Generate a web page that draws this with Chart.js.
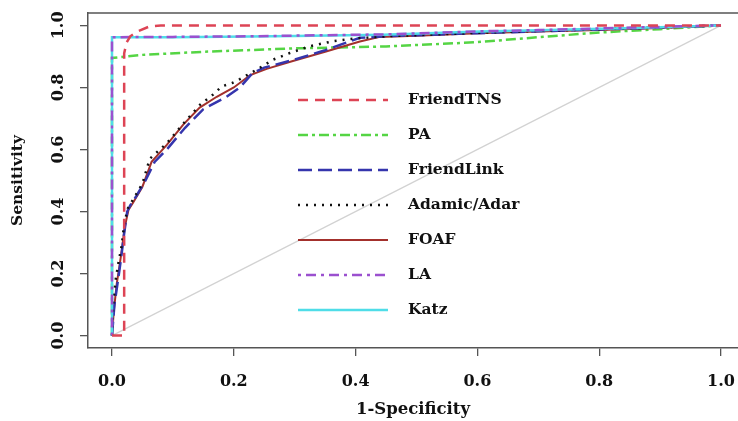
<!DOCTYPE html>
<html><head><meta charset="utf-8">
<script src="https://cdn.jsdelivr.net/npm/chart.js@4/dist/chart.umd.min.js"></script>
<style>html,body{margin:0;padding:0;background:#fff;overflow:hidden;width:738px;height:421px}
#wrap{position:relative;width:738px;height:421px;overflow:hidden}</style>
</head><body><div id="wrap"><canvas id="c" width="738" height="421"></canvas></div>
<script>
const xTicks = [0, 0.2, 0.4, 0.6, 0.8, 1.0];
const yTicks = [0, 0.2, 0.4, 0.6, 0.8, 1.0];
const seriesNames = ['FriendTNS', 'PA', 'FriendLink', 'Adamic/Adar', 'FOAF', 'LA', 'Katz'];

const friendTnsFpr = [0, 0.02, 0.02, 0.024, 0.03, 0.041, 0.062, 0.08, 1];
const friendTnsTpr = [0, 0, 0.91, 0.945, 0.965, 0.98, 0.997, 1, 1];

const paFpr = [0, 0, 0.05, 0.15, 0.3, 0.45, 0.6, 0.7, 0.8, 0.9, 1];
const paTpr = [0, 0.895, 0.905, 0.915, 0.926, 0.932, 0.946, 0.962, 0.977, 0.988, 1];

const friendLinkFpr = [0, 0.004, 0.01, 0.015, 0.02, 0.025, 0.03, 0.04, 0.055, 0.07, 0.09, 0.12, 0.15, 0.188, 0.21, 0.23, 0.25, 0.3, 0.35, 0.407, 0.45, 0.6, 0.8, 1];
const friendLinkTpr = [0, 0.1, 0.18, 0.25, 0.33, 0.4, 0.42, 0.45, 0.5, 0.56, 0.6, 0.67, 0.73, 0.77, 0.8, 0.845, 0.864, 0.89, 0.92, 0.96, 0.965, 0.975, 0.987, 1];

const adamicFpr = [0, 0.002, 0.006, 0.011, 0.016, 0.02, 0.026, 0.035, 0.05, 0.062, 0.09, 0.12, 0.145, 0.166, 0.18, 0.197, 0.21, 0.24, 0.265, 0.292, 0.325, 0.363, 0.4, 0.45, 0.6, 0.8, 1];
const adamicTpr = [0, 0.1, 0.18, 0.24, 0.29, 0.36, 0.41, 0.44, 0.49, 0.57, 0.62, 0.69, 0.745, 0.777, 0.803, 0.814, 0.827, 0.86, 0.89, 0.911, 0.933, 0.949, 0.958, 0.965, 0.976, 0.988, 1];

const foafFpr = [0, 0.003, 0.008, 0.012, 0.016, 0.021, 0.027, 0.035, 0.05, 0.065, 0.09, 0.117, 0.144, 0.172, 0.2, 0.227, 0.254, 0.297, 0.35, 0.407, 0.44, 0.5, 0.6, 0.7, 0.8, 0.9, 1];
const foafTpr = [0, 0.08, 0.17, 0.22, 0.275, 0.35, 0.405, 0.43, 0.48, 0.56, 0.615, 0.68, 0.735, 0.77, 0.8, 0.84, 0.86, 0.885, 0.915, 0.948, 0.963, 0.967, 0.975, 0.98, 0.985, 0.992, 1];

const laFpr = [0, 0, 0.1, 0.226, 0.3, 0.445, 0.604, 0.7, 0.855, 1];
const laTpr = [0, 0.962, 0.963, 0.965, 0.967, 0.971, 0.981, 0.985, 0.993, 1];

const katzFpr = [0, 0, 0.1, 0.226, 0.3, 0.445, 0.604, 0.7, 0.855, 1];
const katzTpr = [0, 0.962, 0.962, 0.964, 0.966, 0.97, 0.98, 0.984, 0.992, 1];

const diagFpr = [0, 1];
const diagTpr = [0, 1];

function pts(xs, ys) { return xs.map((x, i) => ({ x: x, y: ys[i] })); }

const FONT = 'DejaVu Serif';
const txtColor = '#111';
const axisColor = '#555';

const datasets = [
  { label: seriesNames[0], data: pts(friendTnsFpr, friendTnsTpr), borderColor: '#DD4455', borderDash: [10, 7], borderWidth: 2.5, order: 1 },
  { label: seriesNames[1], data: pts(paFpr, paTpr), borderColor: '#55D544', borderDash: [10, 4, 3, 4], borderWidth: 2.5, order: 7 },
  { label: seriesNames[2], data: pts(friendLinkFpr, friendLinkTpr), borderColor: '#3535AD', borderDash: [14, 6], borderWidth: 2.5, order: 5 },
  { label: seriesNames[3], data: pts(adamicFpr, adamicTpr), borderColor: '#111111', borderDash: [2, 6], borderWidth: 2.5, order: 4 },
  { label: seriesNames[4], data: pts(foafFpr, foafTpr), borderColor: '#A3302C', borderDash: [], borderWidth: 2, order: 6 },
  { label: seriesNames[5], data: pts(laFpr, laTpr), borderColor: '#9B50CF', borderDash: [3, 5, 10, 5], borderWidth: 2.5, order: 2 },
  { label: seriesNames[6], data: pts(katzFpr, katzTpr), borderColor: '#4FDDE8', borderDash: [], borderWidth: 2.5, order: 3 },
  { label: '', data: pts(diagFpr, diagTpr), borderColor: '#D2D2D2', borderDash: [], borderWidth: 1.2, order: 9, isDiag: true }
];
datasets.forEach(d => { d.showLine = true; d.pointRadius = 0; d.fill = false; d.tension = 0; });

const frameAndLegend = {
  id: 'frameAndLegend',
  beforeDatasetsDraw(chart) {
    const ctx = chart.ctx, a = chart.chartArea;
    ctx.save();
    ctx.strokeStyle = axisColor;
    ctx.lineWidth = 1.5;
    ctx.beginPath();
    ctx.moveTo(a.left, a.top);
    ctx.lineTo(a.right + 20, a.top);
    ctx.stroke();
    ctx.restore();
  },
  afterDatasetsDraw(chart) {
    const ctx = chart.ctx;
    const x0 = 298, x1 = 388, tx = 408, y0 = 100, dy = 35;
    ctx.save();
    chart.data.datasets.filter(d => !d.isDiag).forEach((d, i) => {
      const y = y0 + i * dy;
      ctx.beginPath();
      ctx.setLineDash(d.borderDash || []);
      ctx.strokeStyle = d.borderColor;
      ctx.lineWidth = d.borderWidth;
      ctx.moveTo(x0, y); ctx.lineTo(x1, y); ctx.stroke();
      ctx.setLineDash([]);
      ctx.fillStyle = txtColor;
      ctx.font = 'bold 15.5px "' + FONT + '"';
      ctx.textBaseline = 'middle';
      ctx.textAlign = 'left';
      ctx.fillText(d.label, tx, y);
    });
    ctx.restore();
  }
};

new Chart(document.getElementById('c'), {
  type: 'scatter',
  data: { datasets: datasets },
  plugins: [frameAndLegend],
  options: {
    responsive: false, animation: false, devicePixelRatio: 1,
    layout: { padding: { top: 13, right: 0, left: 0, bottom: 0 } },
    plugins: { legend: { display: false }, tooltip: { enabled: false } },
    scales: {
      x: {
        type: 'linear', min: -0.0394, max: 1.0279, position: 'bottom',
        afterFit(s) { s.height = 73; s.paddingLeft = 0; s.paddingRight = 0; },
        afterBuildTicks(s) { s.ticks = xTicks.map(v => ({ value: v })); },
        grid: { drawOnChartArea: false, drawTicks: true, tickLength: 8, color: axisColor, lineWidth: 1.3 },
        border: { display: true, color: axisColor, width: 1.5 },
        ticks: { callback: v => Number(v).toFixed(1), font: { family: FONT, weight: 'bold', size: 16 }, color: txtColor, padding: 16, maxRotation: 0, autoSkip: false },
        title: { display: true, text: '1-Specificity', font: { family: FONT, weight: 'bold', size: 16.5 }, color: txtColor, padding: { top: 0, bottom: 1 } }
      },
      y: {
        type: 'linear', min: -0.04, max: 1.04, position: 'left',
        afterFit(s) { s.width = 88; s.paddingTop = 0; s.paddingBottom = 0; },
        afterBuildTicks(s) { s.ticks = yTicks.map(v => ({ value: v })); },
        grid: { drawOnChartArea: false, drawTicks: true, tickLength: 8, color: axisColor, lineWidth: 1.3 },
        border: { display: true, color: axisColor, width: 1.5 },
        ticks: { callback: v => Number(v).toFixed(1), font: { family: FONT, weight: 'bold', size: 16 }, color: txtColor, padding: 7, minRotation: 90, maxRotation: 90, crossAlign: 'center', autoSkip: false },
        title: { display: true, text: 'Sensitivity', font: { family: FONT, weight: 'bold', size: 15.5 }, color: txtColor, padding: { top: 9, bottom: 0 } }
      }
    }
  }
});
</script>
</body></html>
